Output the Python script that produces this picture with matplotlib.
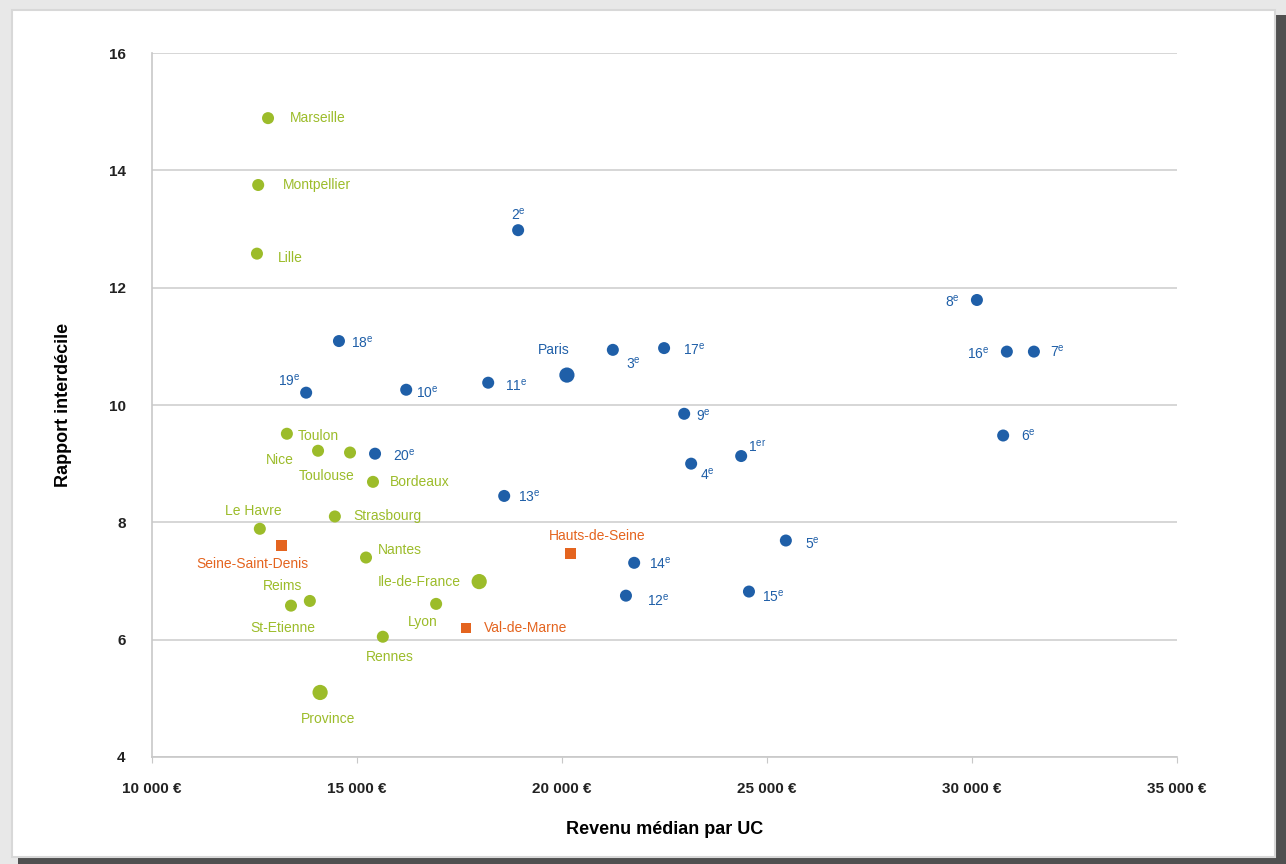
"""Revenu médian par UC vs rapport interdécile."""
import matplotlib
matplotlib.use("Agg")
import matplotlib.pyplot as plt
from matplotlib.patches import Rectangle
from matplotlib.ticker import FuncFormatter

plt.rcParams['font.family'] = ['Liberation Sans', 'DejaVu Sans']
plt.rcParams['mathtext.default'] = 'regular'

GREEN = '#9cbc2a'
BLUE = '#1f5fa8'
ORANGE = '#e4641f'

# Villes (vert)
city_names = ['Marseille', 'Montpellier', 'Lille', 'Toulon', 'Nice', 'Toulouse',
              'Bordeaux', 'Strasbourg', 'Le Havre', 'Nantes', 'Reims', 'St-Etienne',
              'Ile-de-France', 'Lyon', 'Rennes', 'Province']
city_income = [12830, 12590, 12560, 13290, 14050, 14830,
               15390, 14460, 12630, 15220, 13850, 13390,
               17980, 16930, 15630, 14100]
city_ratio = [14.89, 13.75, 12.58, 9.51, 9.22, 9.19,
              8.69, 8.10, 7.89, 7.40, 6.66, 6.58,
              6.99, 6.61, 6.05, 5.10]

# Départements (orange)
dept_names = ['Seine-Saint-Denis', 'Hauts-de-Seine', 'Val-de-Marne']
dept_income = [13150, 20200, 17660]
dept_ratio = [7.60, 7.47, 6.20]

# Paris et arrondissements (bleu)
paris_names = ['2e', '18e', '19e', '10e', '11e', 'Paris', '3e', '17e', '9e', '4e',
               '1er', '20e', '13e', '14e', '12e', '15e', '5e', '8e', '16e', '7e', '6e']
paris_income = [18930, 14560, 13760, 16200, 18200, 20120, 21240, 22490, 22980, 23150,
                24370, 15440, 18590, 21760, 21560, 24560, 25460, 30120, 30850, 31510, 30760]
paris_ratio = [12.98, 11.09, 10.21, 10.26, 10.38, 10.51, 10.94, 10.97, 9.85, 9.00,
               9.13, 9.17, 8.45, 7.31, 6.75, 6.82, 7.69, 11.79, 10.91, 10.91, 9.48]

big_points = {'Ile-de-France', 'Province', 'Paris'}

# label placement: (dx px, dy px, ha, va)
label_pos = {
    'Marseille': (22, 0, 'left', 'center'), 'Montpellier': (25, 0, 'left', 'center'),
    'Lille': (21, -4, 'left', 'center'), 'Toulon': (11, -2, 'left', 'center'),
    'Nice': (-24, -9, 'right', 'center'), 'Toulouse': (-23, -23, 'center', 'center'),
    'Bordeaux': (17, 0, 'left', 'center'), 'Strasbourg': (18, 0, 'left', 'center'),
    'Le Havre': (-7, 18, 'center', 'center'), 'Nantes': (12, 8, 'left', 'center'),
    'Reims': (-27, 15, 'center', 'center'), 'St-Etienne': (-8, -22, 'center', 'center'),
    'Ile-de-France': (-18, 0, 'right', 'center'), 'Lyon': (-13, -18, 'center', 'center'),
    'Rennes': (7, -20, 'center', 'center'), 'Province': (8, -27, 'center', 'center'),
    'Seine-Saint-Denis': (-29, -18, 'center', 'center'),
    'Hauts-de-Seine': (27, 17, 'center', 'center'), 'Val-de-Marne': (18, 0, 'left', 'center'),
    '2e': (0, 16, 'center', 'center'), '18e': (12, -2, 'left', 'center'),
    '19e': (-6, 12, 'right', 'center'), '10e': (10, -3, 'left', 'center'),
    '11e': (17, -3, 'left', 'center'), 'Paris': (-13, 25, 'center', 'center'),
    '3e': (13, -14, 'left', 'center'), '17e': (19, -2, 'left', 'center'),
    '9e': (12, -2, 'left', 'center'), '4e': (9, -11, 'left', 'center'),
    '1er': (7, 9, 'left', 'center'), '20e': (18, -2, 'left', 'center'),
    '13e': (14, -1, 'left', 'center'), '14e': (15, -1, 'left', 'center'),
    '12e': (21, -5, 'left', 'center'), '15e': (13, -5, 'left', 'center'),
    '5e': (19, -3, 'left', 'center'), '8e': (-17, -2, 'right', 'center'),
    '16e': (-17, -2, 'right', 'center'), '7e': (16, 0, 'left', 'center'),
    '6e': (18, 0, 'left', 'center'),
}


def pretty(name):
    if name.endswith('er') and name[:-2].isdigit():
        return name[:-2] + r'$^{er}$'
    if name.endswith('e') and name[:-1].isdigit():
        return name[:-1] + r'$^{e}$'
    return name


W, H = 1286, 864
fig = plt.figure(figsize=(W / 100, H / 100), dpi=100, facecolor='#e8e8e8')
# card with drop shadow
fig.patches.append(Rectangle((18 / W, 0), 1268 / W, 849 / H,
                             transform=fig.transFigure, facecolor='#505050',
                             edgecolor='none', zorder=0))
fig.patches.append(Rectangle((12 / W, 7 / H), 1263 / W, 847 / H,
                             transform=fig.transFigure, facecolor='white',
                             edgecolor='#d8d8d8', lw=1.5, zorder=0))

ax = fig.add_axes([152 / W, 1 - 757 / H, 1025 / W, 704 / H])
ax.set_zorder(2)
ax.set_facecolor('none')


def draw(names, xs, ys, color, marker, base):
    sizes = [base * 1.6 if n in big_points else base for n in names]
    ax.scatter(xs, ys, s=sizes, c=color, marker=marker, zorder=3, linewidths=0)
    for n, x, y in zip(names, xs, ys):
        dx, dy, ha, va = label_pos[n]
        ax.annotate(pretty(n), (x, y), xytext=(dx, dy), textcoords='offset pixels',
                    ha=ha, va=va, fontsize=10, color=color, zorder=4)


draw(city_names, city_income, city_ratio, GREEN, 'o', 75)
draw(dept_names, dept_income, dept_ratio, ORANGE, 's', 60)
draw(paris_names, paris_income, paris_ratio, BLUE, 'o', 75)

ax.set_xlim(10000, 35000)
ax.set_ylim(4, 16)
ax.set_xticks(range(10000, 35001, 5000))
ax.set_yticks(range(4, 17, 2))
ax.xaxis.set_major_formatter(FuncFormatter(lambda v, p: f"{int(v):,} €".replace(',', ' ')))
ax.yaxis.grid(True, color='#cfcfcf', lw=1.2)
ax.set_axisbelow(True)
for side in ('top', 'right'):
    ax.spines[side].set_visible(False)
for side in ('left', 'bottom'):
    ax.spines[side].set_color('#c8c8c8')
    ax.spines[side].set_linewidth(1.2)
ax.tick_params(axis='y', length=0, pad=19, labelsize=11, labelcolor='#222222')
ax.tick_params(axis='x', length=4, color='#c8c8c8', pad=14, labelsize=11, labelcolor='#222222')
for lbl in ax.get_xticklabels() + ax.get_yticklabels():
    lbl.set_fontweight('bold')
ax.set_xlabel('Revenu médian par UC', fontsize=13, fontweight='bold', labelpad=18)
ax.set_ylabel('Rapport interdécile', fontsize=13, fontweight='bold', labelpad=26)

fig.savefig('out.png', dpi=100, facecolor=fig.get_facecolor())
